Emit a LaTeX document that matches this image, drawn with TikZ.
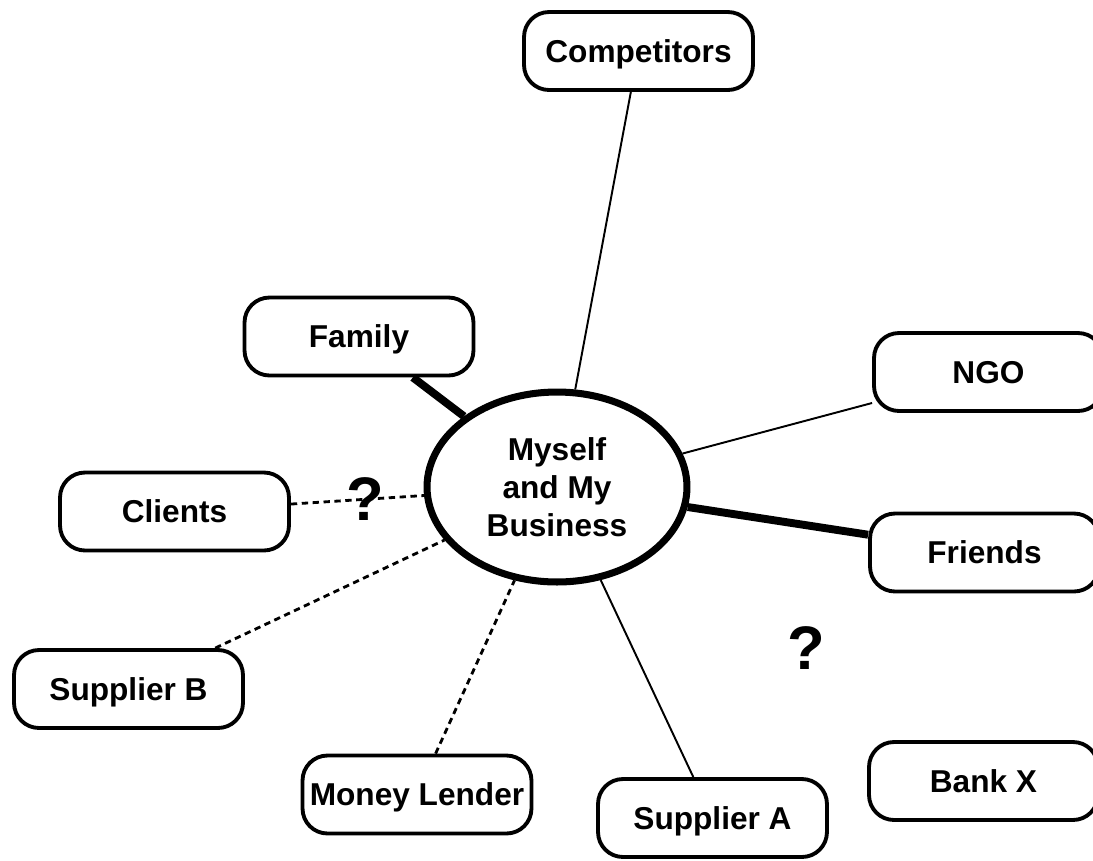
\documentclass[tikz,border=0pt]{standalone}
\usepackage{fontspec}
\setmainfont{Liberation Sans}
\usetikzlibrary{shapes.geometric}

\begin{document}
\begin{tikzpicture}[x=0.02cm, y=-0.02cm,
  every node/.style={font=\fontsize{18}{21.5}\selectfont\bfseries},
  party/.style={draw, rounded corners=0.5cm, line width=2.2pt, fill=white, minimum width=4.58cm, minimum height=1.56cm, inner sep=0pt, text height=12.9pt, text depth=0pt},
  hub/.style={draw, ellipse, line width=4pt, fill=white, minimum width=5.2cm, minimum height=3.8cm, align=center, inner sep=0pt},
  strong/.style={line width=4.5pt},
  weak/.style={line width=1.1pt},
  unsure/.style={line width=1.6pt, dash pattern=on 3.6pt off 2.6pt},
  ask/.style={font=\fontsize{35}{40}\selectfont\bfseries, inner sep=0pt}]
\useasboundingbox (0,0) rectangle (1093,860);
\clip (0,0) rectangle (1093,860);
% Centre
\node[hub] (me) at (557,487) {Myself\\and My\\Business};
% Surrounding parties
\node[party] (comp) at (638.5,51) {Competitors};
\node[party] (fam) at (359,336.5) {Family};
\node[party] (ngo) at (988.5,372) {NGO};
\node[party] (friends) at (984.5,552.5) {Friends};
\node[party] (bank) at (983.5,781) {Bank X};
\node[party] (clients) at (174.5,511.5) {Clients};
\node[party] (supb) at (128.5,689) {Supplier B};
\node[party] (lender) at (417,794.5) {Money Lender};
\node[party] (supa) at (712.5,818) {Supplier A};
% Links
\foreach \a in {fam, friends} {
  \draw[strong] (\a) -- (me);
}
\foreach \a in {comp, ngo, supa} {
  \draw[weak] (\a) -- (me);
}
\foreach \a in {supb, lender} {
  \draw[unsure] (\a) -- (me);
}
\draw[unsure] (clients) -- node[ask, pos=0.56] (q1) {?} (me);
\node[ask] (q2) at (806,648) {?};
\end{tikzpicture}
\end{document}
